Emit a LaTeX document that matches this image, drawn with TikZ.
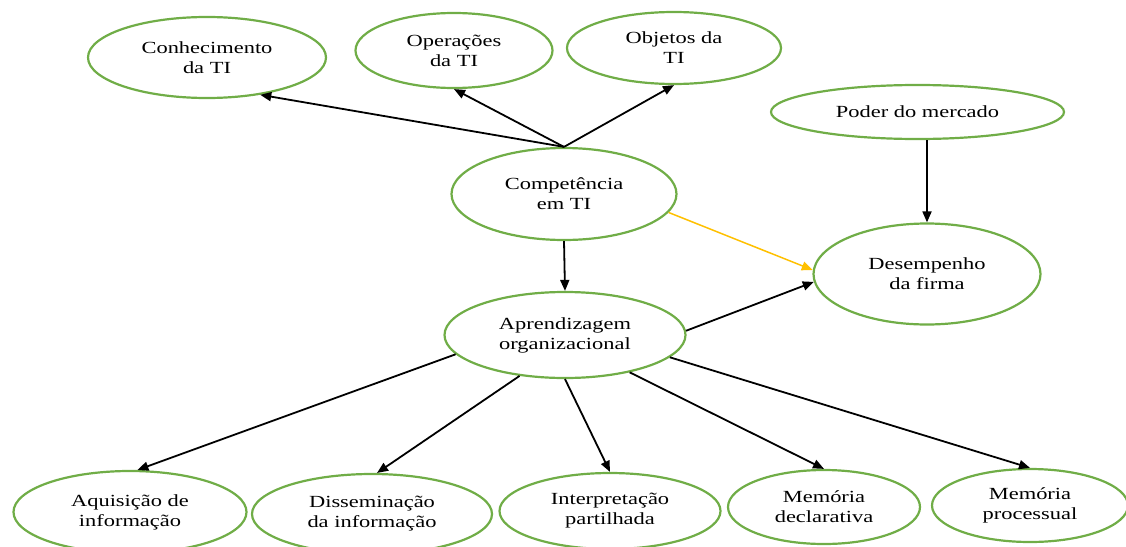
\documentclass[tikz,border=0pt]{standalone}
\usepackage{fontspec}
\setmainfont{Liberation Serif}[FakeStretch=1.32]
\usepackage{tikz}
\usepackage{xcolor}
\usetikzlibrary{shapes.geometric,arrows.meta}
\definecolor{elgreen}{HTML}{70AD47}
\definecolor{elyellow}{HTML}{FFC000}

\begin{document}
\begin{tikzpicture}[x=1pt, y=-1pt,
  bolha/.style={ellipse, draw=elgreen, line width=2.2pt, inner sep=0pt, align=center, font=\fontsize{17}{20}\selectfont},
  seta/.style={line width=1.8pt, -{Triangle[length=11pt,width=9pt]}}]
\useasboundingbox (0,0) rectangle (1126,546);
\node[bolha, minimum width=238pt, minimum height=81pt] (conh) at (207,57.5) {Conhecimento\\da TI};
\node[bolha, minimum width=197pt, minimum height=75pt] (ops) at (454,50.5) {Operações\\da TI};
\node[bolha, minimum width=214pt, minimum height=72pt] (obj) at (674,48) {Objetos da\\TI};
\node[bolha, minimum width=293pt, minimum height=54pt] (poder) at (917.5,112) {Poder do mercado};
\node[bolha, minimum width=225pt, minimum height=92pt] (comp) at (564,194) {Competência\\em TI};
\node[bolha, minimum width=227pt, minimum height=101pt] (des) at (927,274) {Desempenho\\da firma};
\node[bolha, minimum width=241pt, minimum height=86pt] (apr) at (565,335) {Aprendizagem\\organizacional};
\node[bolha, minimum width=233pt, minimum height=82pt] (aq) at (130,512) {Aquisição de\\informação};
\node[bolha, minimum width=240pt, minimum height=80pt] (dis) at (372,514) {Disseminação\\da informação};
\node[bolha, minimum width=221pt, minimum height=76pt] (int) at (610,511) {Interpretação\\partilhada};
\node[bolha, minimum width=192pt, minimum height=74pt] (decl) at (824,507) {Memória\\declarativa};
\node[bolha, minimum width=196pt, minimum height=73pt] (proc) at (1030,505.5) {Memória\\processual};
\draw[seta] (comp.north) -- (conh.-35);
\draw[seta] (comp.north) -- (ops.south);
\draw[seta] (comp.north) -- (obj.south);
\draw[seta] (poder.south -| des.north) -- (des.north);
\draw[seta, color=elyellow, line width=1.5pt] (comp.-10) -- (des.178);
\draw[seta] (comp.south) -- (apr.north);
\draw[seta] (apr.2) -- (des.184);
\draw[seta] (apr.190) -- (aq.80);
\draw[seta] (apr.222) -- (dis.83);
\draw[seta] (apr.south) -- (int.north);
\draw[seta] (apr.-30) -- (decl.north);
\draw[seta] (apr.-12) -- (proc.north);
\end{tikzpicture}
\end{document}
